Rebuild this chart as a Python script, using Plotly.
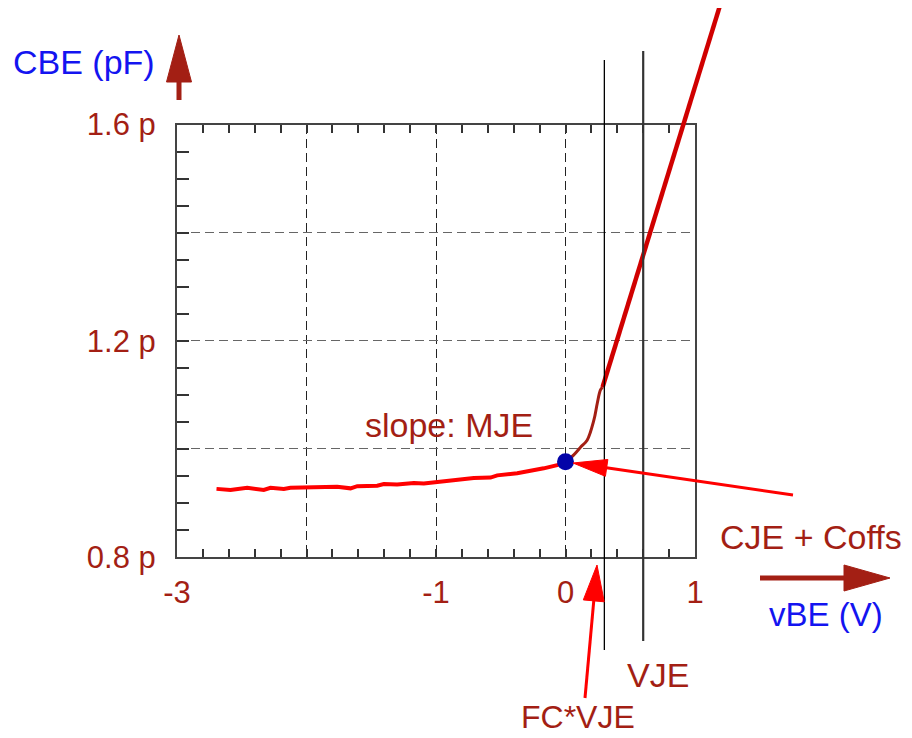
import math
import plotly.graph_objects as go

OFF = 8                      # page body margin in the browser
W, H = 912 - OFF, 738 - OFF  # figure size that fits the window

# ---------------- data ----------------
# reverse-bias region (bright red trace)
vbe_rev = [-2.695, -2.587, -2.458, -2.330, -2.278, -2.175, -2.124, -1.995, -1.763, -1.660,
           -1.608, -1.454, -1.403, -1.300, -1.171, -1.094, -0.991, -0.888, -0.862, -0.708,
           -0.579, -0.527, -0.373, -0.270, -0.168, -0.064, 0.0]
cbe_rev = [0.926, 0.924, 0.928, 0.924, 0.928, 0.926, 0.928, 0.929, 0.930, 0.927,
           0.931, 0.932, 0.935, 0.934, 0.937, 0.936, 0.939, 0.942, 0.941, 0.946,
           0.947, 0.951, 0.955, 0.959, 0.964, 0.970, 0.976]
# forward-bias curved part (dark red)
vbe_fwd = [0.0, 0.064, 0.116, 0.167, 0.219, 0.245, 0.270, 0.286]
cbe_fwd = [0.976, 0.989, 1.003, 1.016, 1.053, 1.084, 1.109, 1.114]
# linear extrapolation above FC*VJE (red)
vbe_lin = [0.286, 1.189]
cbe_lin = [1.114, 1.817]
# CJE + Coffs point
vbe_cje = [0.0]
cbe_cje = [0.976]
# parameters
FC_VJE = 0.3
VJE = 0.6

x_tickvals = [-3, -2, -1, 0, 1]
x_ticktext = ["-3", "", "-1", "0", "1"]
y_tickvals = [0.8, 1.0, 1.2, 1.4, 1.6]
y_ticktext = ["0.8 p", "", "1.2 p", "", "1.6 p"]

# ---------------- style ----------------
DR = "#A31F14"
BLUE = "#1414F0"
RED = "#FF0000"
RED2 = "#D00000"
FONT = "Liberation Sans, Arial, sans-serif"


def P(px, py):
    """window pixel -> paper fraction"""
    return (px - OFF) / W, 1 - (py - OFF) / H


X_RANGE = [-3, 1]
Y_RANGE = [0.8, 1.6]
XDOM = [P(177, 0)[0], P(695, 0)[0]]
YDOM = [P(0, 557)[1], P(0, 124.5)[1]]


def ext_range(rng, dom):
    span = (rng[1] - rng[0]) / (dom[1] - dom[0])
    return [rng[0] - dom[0] * span, rng[1] + (1 - dom[1]) * span]


X2_RANGE = ext_range(X_RANGE, XDOM)
Y2_RANGE = ext_range(Y_RANGE, YDOM)


def arrow(x0, y0, x1, y1, hl, hw, color, w):
    dx, dy = x1 - x0, y1 - y0
    L = math.hypot(dx, dy)
    ux, uy = dx / L, dy / L
    bx, by = x1 - ux * hl, y1 - uy * hl
    nx, ny = -uy, ux
    a = P(x0, y0)
    b = P(bx + ux * 2, by + uy * 2)
    t = P(x1, y1)
    c1 = P(bx + nx * hw, by + ny * hw)
    c2 = P(bx - nx * hw, by - ny * hw)
    return [
        dict(type="line", xref="paper", yref="paper", x0=a[0], y0=a[1], x1=b[0], y1=b[1],
             line=dict(color=color, width=w), layer="above"),
        dict(type="path", xref="paper", yref="paper",
             path=f"M{t[0]},{t[1]} L{c1[0]},{c1[1]} L{c2[0]},{c2[1]} Z",
             fillcolor=color, line=dict(color=color, width=1), layer="above"),
    ]


fig = go.Figure()

fig.add_trace(go.Scatter(x=vbe_rev, y=cbe_rev, mode="lines", xaxis="x", yaxis="y",
                         line=dict(color=RED, width=4), hoverinfo="skip"))
fig.add_trace(go.Scatter(x=vbe_fwd, y=cbe_fwd, mode="lines", xaxis="x", yaxis="y",
                         line=dict(color=DR, width=3, shape="spline"), hoverinfo="skip"))
fig.add_trace(go.Scatter(x=vbe_lin, y=cbe_lin, mode="lines", xaxis="x2", yaxis="y2",
                         line=dict(color=RED2, width=4.5), hoverinfo="skip"))
fig.add_trace(go.Scatter(x=vbe_cje, y=cbe_cje, mode="markers", xaxis="x", yaxis="y",
                         marker=dict(color="#0404A8", size=17), cliponaxis=False, hoverinfo="skip"))

shapes = [
    dict(type="line", xref="x", yref="paper", x0=FC_VJE, x1=FC_VJE, y0=P(0, 650)[1], y1=P(0, 60)[1],
         line=dict(color="#000000", width=1.3), layer="above"),
    dict(type="line", xref="x", yref="paper", x0=VJE, x1=VJE, y0=P(0, 641)[1], y1=P(0, 51)[1],
         line=dict(color="#333333", width=2.2), layer="above"),
]
shapes += arrow(179, 100, 179, 35, 47, 12.5, DR, 5)
shapes += arrow(760, 578, 890, 578, 46, 13, DR, 5)
shapes += arrow(793, 495, 573, 463, 34, 8.5, RED, 3)
shapes += arrow(585, 698, 597, 565, 36, 10.5, RED, 3)

annots = []
for txt, cx, cy, col, sz in [
    ("CBE (pF)", 84, 62, BLUE, 34),
    ("vBE (V)", 826, 614, BLUE, 33),
    ("CJE + Coffs", 811, 537, DR, 34),
    ("slope: MJE", 449, 425, DR, 34),
    ("VJE", 658, 675, DR, 34),
    ("FC*VJE", 578, 717, DR, 32),
]:
    x, y = P(cx, cy)
    annots.append(dict(text=txt, x=x, y=y, xref="paper", yref="paper", showarrow=False,
                       xanchor="center", yanchor="middle", font=dict(family=FONT, size=sz, color=col)))

fig.update_layout(
    width=W, height=H, margin=dict(l=0, r=0, t=0, b=0),
    template="none", paper_bgcolor="white", plot_bgcolor="rgba(0,0,0,0)",
    showlegend=False, shapes=shapes, annotations=annots,
    xaxis=dict(domain=XDOM, range=X_RANGE, tickvals=x_tickvals, ticktext=x_ticktext,
               ticks="inside", ticklen=8, tickwidth=1.5, tickcolor="#333",
               showline=True, linecolor="#444", linewidth=2, mirror="ticks",
               showgrid=True, gridcolor="#222", gridwidth=1.3, griddash="9px,5px",
               zeroline=False, ticklabelstandoff=7,
               minor=dict(dtick=0.2, ticks="inside", ticklen=8, tickwidth=1.5, tickcolor="#333", showgrid=False),
               tickfont=dict(family=FONT, size=31, color=DR), fixedrange=True),
    yaxis=dict(domain=YDOM, range=Y_RANGE, tickvals=y_tickvals, ticktext=y_ticktext,
               ticks="inside", ticklen=12, tickwidth=1.5, tickcolor="#333",
               showline=True, linecolor="#444", linewidth=2, mirror=True,
               showgrid=True, gridcolor="#666", gridwidth=1.3, griddash="9px,5px",
               zeroline=False, ticklabelstandoff=13,
               minor=dict(dtick=0.05, ticks="inside", ticklen=12, tickwidth=1.5, tickcolor="#333", showgrid=False),
               tickfont=dict(family=FONT, size=31, color=DR), fixedrange=True),
    xaxis2=dict(domain=[0, 1], range=X2_RANGE, anchor="y2", visible=False, fixedrange=True),
    yaxis2=dict(domain=[0, 1], range=Y2_RANGE, anchor="x2", visible=False, fixedrange=True),
)

fig.write_html("out.html")
